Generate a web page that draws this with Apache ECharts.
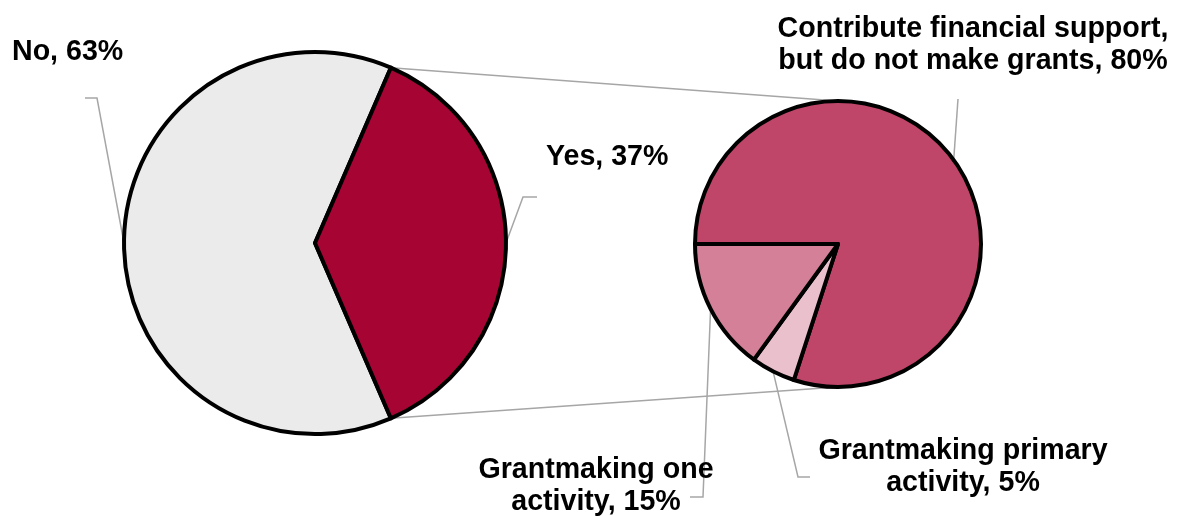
<!DOCTYPE html>
<html>
<head>
<meta charset="utf-8">
<title>Pie of pie</title>
<script src="https://cdn.jsdelivr.net/npm/echarts@6/dist/echarts.min.js"></script>
<style>
  html, body { margin: 0; padding: 0; background: #ffffff; }
  #chart { width: 1177px; height: 516px; }
</style>
</head>
<body>
<div id="chart"></div>
<script>
// Main question: does the organisation make grants / contribute?
var mainCategories = ['No', 'Yes'];
var mainValues = [63, 37];

// Breakdown of the "Yes" share (percent of that share)
var detailCategories = [
  'Contribute financial support,\nbut do not make grants',
  'Grantmaking primary\nactivity',
  'Grantmaking one\nactivity'
];
var detailValues = [80, 5, 15];

// ---- layout and style ----
var FONT = '"Liberation Sans", Arial, sans-serif';
var mainCenter = [315, 243], mainRadius = 191;
var detailCenter = [838, 244], detailRadius = 143;
var LINE_GREY = '#a6a6a6';
var mainColors = ['#ecebec', '#a60534'];
var detailColors = ['#c04669', '#eac0cc', '#d48098'];

// label anchors and guide-line bends, per slice
var mainLabelPlace = [
  { x: 12, y: 52, align: 'left', bend: [[97, 98], [85, 98]] },
  { x: 546, y: 157, align: 'left', bend: [[523, 197], [537, 197]] }
];
var detailLabelPlace = [
  { x: 973, y: 45, align: 'center', bend: [[958, 99], [958, 99]] },
  { x: 963, y: 467, align: 'center', bend: [[798, 477], [810, 477]] },
  { x: 596, y: 486, align: 'center', bend: [[703, 497], [690, 497]] }
];

function sum(a) { return a.reduce(function (s, v) { return s + v; }, 0); }

// "Yes" slice is centred on the 3 o'clock direction, facing the breakdown pie.
// Slices run clockwise from startAngle in data order (No, then Yes).
var total = sum(mainValues);
var yesIndex = mainCategories.indexOf('Yes');
var yesSweep = mainValues[yesIndex] / total * 360;
var beforeYes = sum(mainValues.slice(0, yesIndex)) / total * 360;
var mainStart = beforeYes + yesSweep / 2;
var yesHalf = yesSweep / 2;

function buildData(names, values, colors) {
  return names.map(function (n, i) {
    return { name: n, value: values[i], itemStyle: { color: colors[i] } };
  });
}

function makeLayout(places) {
  return function (params) {
    var p = places[params.dataIndex];
    var start = params.labelLinePoints ? params.labelLinePoints[0] : p.bend[0];
    return {
      x: p.x,
      y: p.y,
      align: p.align,
      verticalAlign: 'middle',
      labelLinePoints: [start, p.bend[0], p.bend[1]]
    };
  };
}

var labelStyle = {
  show: true,
  position: 'outside',
  color: '#000000',
  fontFamily: FONT,
  fontWeight: 'bold',
  fontSize: 28.6,
  lineHeight: 32,
  align: 'center',
  formatter: function (p) { return p.name + ', ' + p.value + '%'; }
};
var labelLineStyle = {
  show: true,
  length: 10,
  length2: 10,
  smooth: false,
  lineStyle: { color: LINE_GREY, width: 1.5 }
};

// connector lines: edges of the "Yes" slice to top and bottom of the breakdown pie
var edgeRad = (90 - yesHalf) * Math.PI / 180; // measured from the top, clockwise
var edgeTop = [mainCenter[0] + mainRadius * Math.sin(edgeRad), mainCenter[1] - mainRadius * Math.cos(edgeRad)];
var edgeBottom = [edgeTop[0], mainCenter[1] + mainRadius * Math.cos(edgeRad)];
var detailTop = [detailCenter[0], detailCenter[1] - detailRadius];
var detailBottom = [detailCenter[0], detailCenter[1] + detailRadius];

var chart = echarts.init(document.getElementById('chart'), null, { renderer: 'canvas' });
chart.setOption({
  backgroundColor: '#ffffff',
  animation: false,
  graphic: [
    { type: 'line', silent: true, z: 0,
      shape: { x1: edgeTop[0], y1: edgeTop[1], x2: detailTop[0], y2: detailTop[1] },
      style: { stroke: LINE_GREY, lineWidth: 1.5 } },
    { type: 'line', silent: true, z: 0,
      shape: { x1: edgeBottom[0], y1: edgeBottom[1], x2: detailBottom[0], y2: detailBottom[1] },
      style: { stroke: LINE_GREY, lineWidth: 1.5 } }
  ],
  series: [
    {
      type: 'pie',
      silent: true,
      center: mainCenter,
      radius: mainRadius,
      startAngle: mainStart,
      clockwise: true,
      avoidLabelOverlap: false,
      itemStyle: { borderColor: '#000000', borderWidth: 4 },
      label: labelStyle,
      labelLine: labelLineStyle,
      labelLayout: makeLayout(mainLabelPlace),
      emphasis: { disabled: true },
      data: buildData(mainCategories, mainValues, mainColors)
    },
    {
      type: 'pie',
      silent: true,
      center: detailCenter,
      radius: detailRadius,
      startAngle: 180,
      clockwise: true,
      avoidLabelOverlap: false,
      itemStyle: { borderColor: '#000000', borderWidth: 4 },
      label: labelStyle,
      labelLine: labelLineStyle,
      labelLayout: makeLayout(detailLabelPlace),
      emphasis: { disabled: true },
      data: buildData(detailCategories, detailValues, detailColors)
    }
  ]
});
</script>
</body>
</html>
